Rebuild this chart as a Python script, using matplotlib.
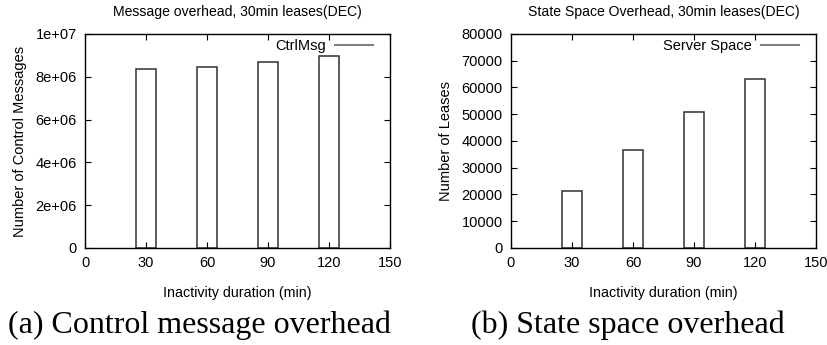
import matplotlib
matplotlib.use("Agg")
import matplotlib.pyplot as plt
from matplotlib.lines import Line2D

# values
durations = [30, 60, 90, 120]
ctrl_msgs = [8.36e6, 8.45e6, 8.68e6, 8.95e6]
leases = [21300, 36800, 50700, 63200]

xticks = [0, 30, 60, 90, 120, 150]
msg_yticks = [0, 2e6, 4e6, 6e6, 8e6, 1e7]
msg_ylabels = ["0", "2e+06", "4e+06", "6e+06", "8e+06", "1e+07"]
lease_yticks = [0, 10000, 20000, 30000, 40000, 50000, 60000, 70000, 80000]

plt.rcParams['font.family'] = ['Liberation Sans', 'DejaVu Sans']

fig = plt.figure(figsize=(8.28, 3.45), dpi=100)
ax1 = fig.add_axes([0.1027, 0.2812, 0.3684, 0.6203])
ax2 = fig.add_axes([0.6171, 0.2812, 0.3684, 0.6203])


def style(ax, title, ylabel, legend_label):
    ax.set_xlim(0, 150)
    ax.set_xticks(xticks)
    ax.tick_params(direction='in', top=True, right=True, length=4,
                   width=0.8, labelsize=10.5, pad=6)
    for s in ax.spines.values():
        s.set_linewidth(1.0)
    ax.set_title(title, fontsize=10.1, pad=13)
    ax.set_xlabel("Inactivity duration (min)", fontsize=10.3, labelpad=11)
    ax.set_ylabel(ylabel, fontsize=10.5, labelpad=6)
    h = Line2D([0], [0], color='#808080', lw=1.5)
    ax.legend([h], [legend_label], loc='upper right', frameon=False,
              markerfirst=False, fontsize=10.5, handlelength=2.6,
              borderaxespad=0, borderpad=0, handletextpad=0.6,
              bbox_to_anchor=(0.944, 0.975))


ax1.bar(durations, ctrl_msgs, width=10, facecolor='white',
        edgecolor='#303030', linewidth=1.1)
ax1.set_ylim(0, 1e7)
ax1.set_yticks(msg_yticks)
ax1.set_yticklabels(msg_ylabels)
style(ax1, "Message overhead, 30min leases(DEC)",
      "Number of Control Messages", "CtrlMsg")

ax2.bar(durations, leases, width=10, facecolor='white',
        edgecolor='#303030', linewidth=1.1)
ax2.set_ylim(0, 80000)
ax2.set_yticks(lease_yticks)
style(ax2, "State Space Overhead, 30min leases(DEC)",
      "Number of Leases", "Server Space")

fig.text(0.2415, 0.035, "(a) Control message overhead", ha='center',
         va='baseline', fontsize=23, family='Liberation Serif')
fig.text(0.758, 0.035, "(b) State space overhead", ha='center',
         va='baseline', fontsize=23, family='Liberation Serif')

fig.savefig("out.png", dpi=100)
